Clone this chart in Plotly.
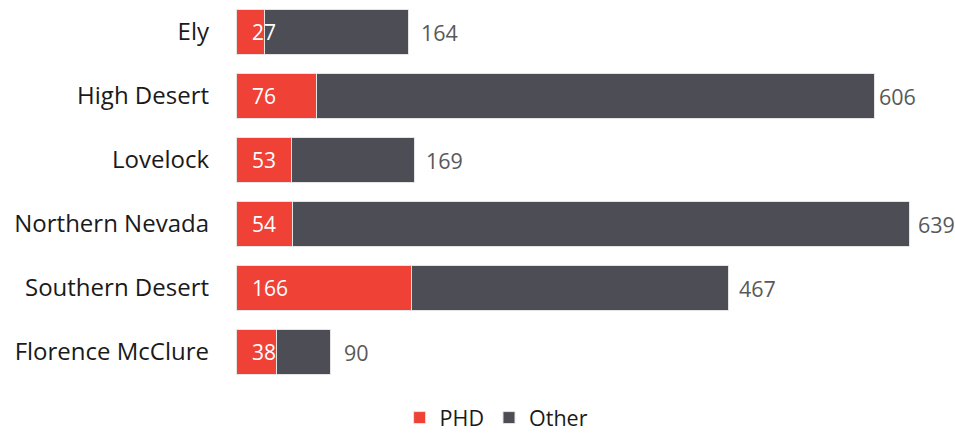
import plotly.graph_objects as go

categories = ["Ely", "High Desert", "Lovelock", "Northern Nevada", "Southern Desert", "Florence McClure"]
phd = [27, 76, 53, 54, 166, 38]
other = [137, 530, 116, 585, 301, 52]
totals = [p + o for p, o in zip(phd, other)]

total_shift = [12, 4, 12, 8, 11, 13]

RED = "#EF4136"
GRAY = "#4D4D55"
FONT = "Open Sans"

fig = go.Figure()
fig.add_trace(go.Bar(
    y=categories, x=phd, name="PHD", orientation="h",
    marker=dict(color=RED, line=dict(color="#e4e4e4", width=1)),
    hoverinfo="x+y",
))
fig.add_trace(go.Bar(
    y=categories, x=other, name="Other", orientation="h",
    marker=dict(color=GRAY, line=dict(color="#e4e4e4", width=1)),
    hoverinfo="x+y",
))

for c, p in zip(categories, phd):
    fig.add_annotation(x=0, y=c, text=str(p), showarrow=False, xanchor="left",
                       xshift=14, font=dict(family=FONT, size=21, color="white"))
for c, t, s in zip(categories, totals, total_shift):
    fig.add_annotation(x=t, y=c, text=str(t), showarrow=False, xanchor="left",
                       xshift=s - 2, font=dict(family=FONT, size=21.5, color="#595959"))

fig.update_layout(
    barmode="stack",
    bargap=0.3,
    width=955, height=435,
    margin=dict(l=236, r=20, t=0, b=51),
    paper_bgcolor="white", plot_bgcolor="white",
    font=dict(family=FONT, size=23, color="#1a1a1a"),
    xaxis=dict(range=[0, 663], visible=False, fixedrange=True),
    yaxis=dict(autorange="reversed", showgrid=False, zeroline=False, showline=False,
               ticks="", ticklabelstandoff=26,
               tickfont=dict(family=FONT, size=24, color="#1a1a1a")),
    legend=dict(orientation="h", xref="container", yref="container",
                x=0.52, xanchor="center", y=0.04, yanchor="middle",
                font=dict(family=FONT, size=21.5, color="#1a1a1a"),
                itemwidth=30, traceorder="normal"),
    showlegend=True,
)

fig.write_html("out.html")
